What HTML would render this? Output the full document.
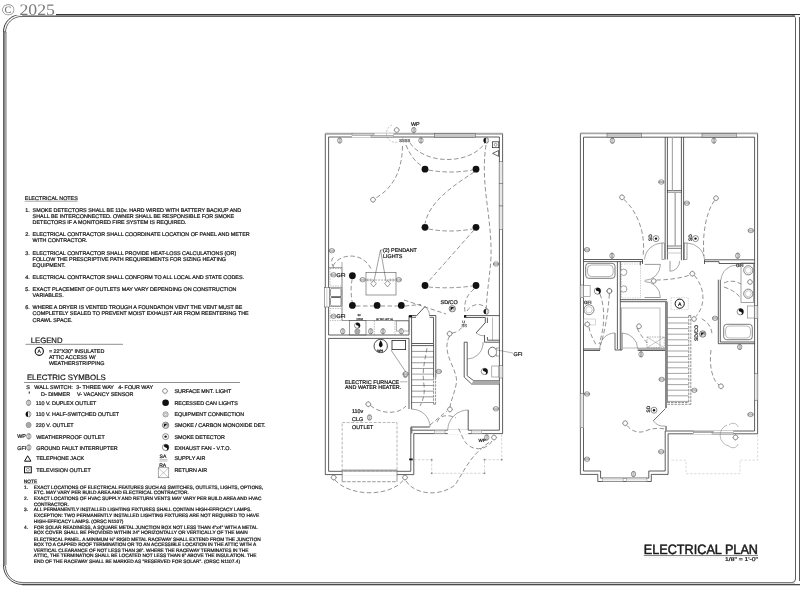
<!DOCTYPE html><html><head><meta charset="utf-8"><style>html,body{margin:0;padding:0;background:#fff;}svg{display:block;will-change:transform;} text{text-rendering:geometricPrecision;font-variant-ligatures:none;font-feature-settings:"liga" 0,"clig" 0;stroke:currentColor;stroke-width:0.24px;}</style></head><body>
<svg width="800" height="600" viewBox="0 0 800 600">
<rect width="800" height="600" fill="#fff"/>
<rect x="21" y="14" width="779" height="1" fill="#333"/>
<rect x="22" y="15" width="773" height="1" fill="#909090"/>
<rect x="22" y="16" width="773" height="1" fill="#666"/>
<rect x="3" y="31" width="1" height="535" fill="#636363"/>
<rect x="4" y="31" width="1" height="535" fill="#888"/>
<rect x="5" y="32" width="1" height="533" fill="#a6a6a6"/>
<rect x="6" y="32" width="1" height="533" fill="#bbb"/>
<rect x="22" y="582" width="770" height="1" fill="#7f7f7f"/>
<rect x="22" y="583" width="773" height="1" fill="#d0d0d0"/>
<rect x="22" y="584" width="778" height="1" fill="#4a4a4a"/>
<rect x="22" y="585" width="778" height="1" fill="#c8c8c8"/>
<rect x="795" y="18" width="1" height="561" fill="#5e5e5e"/>
<rect x="799" y="17" width="1" height="564" fill="#5a5a5a"/>
<path d="M3.5,31.5 A17.5,17.5 0 0 1 21,14.5" stroke="#333" stroke-width="1.0" fill="none" />
<path d="M5.5,32.5 A16,16 0 0 1 22,16.5" stroke="#666" stroke-width="1.0" fill="none" />
<path d="M3.5,565.5 A19,19 0 0 0 22.5,584.5" stroke="#444" stroke-width="1.0" fill="none" />
<path d="M5.5,565.5 A16.5,16.5 0 0 0 22,582.5" stroke="#666" stroke-width="1.0" fill="none" />
<path d="M792,582.5 A3.5,3.5 0 0 0 795.5,579" stroke="#5e5e5e" stroke-width="1.0" fill="none" />
<path d="M795.5,18.5 A3,3 0 0 0 792.5,15.5" stroke="#666" stroke-width="0.8" fill="none" />
<rect x="0" y="0" width="56" height="15.2" fill="#fff"/>
<text x="1.5" y="15.3" font-size="16" fill="#7a7a7a" color="#7a7a7a" font-family="Liberation Serif" font-weight="normal" textLength="53.5" lengthAdjust="spacingAndGlyphs" style="stroke-width:0">© 2025</text>
<text x="24.8" y="200" font-size="5.4" fill="#222" color="#222" font-family="Liberation Sans" font-weight="normal" textLength="53" lengthAdjust="spacingAndGlyphs" >ELECTRICAL NOTES</text>
<line x1="24.8" y1="201.2" x2="77.8" y2="201.2" stroke="#444" stroke-width="0.5" />
<text x="25.2" y="211.8" font-size="5.4" fill="#222" color="#222" font-family="Liberation Sans" font-weight="normal" >1.</text>
<text x="32.6" y="211.8" font-size="5.4" fill="#222" color="#222" font-family="Liberation Sans" font-weight="normal" >SMOKE DETECTORS SHALL BE 110v. HARD WIRED WITH BATTERY BACKUP AND</text>
<text x="32.6" y="217.85" font-size="5.4" fill="#222" color="#222" font-family="Liberation Sans" font-weight="normal" >SHALL BE INTERCONNECTED. OWNER SHALL BE RESPONSIBLE FOR SMOKE</text>
<text x="32.6" y="223.9" font-size="5.4" fill="#222" color="#222" font-family="Liberation Sans" font-weight="normal" >DETECTORS IF A MONITORED FIRE SYSTEM IS REQUIRED.</text>
<text x="25.2" y="236.2" font-size="5.4" fill="#222" color="#222" font-family="Liberation Sans" font-weight="normal" >2.</text>
<text x="32.6" y="236.2" font-size="5.4" fill="#222" color="#222" font-family="Liberation Sans" font-weight="normal" >ELECTRICAL CONTRACTOR SHALL COORDINATE LOCATION OF PANEL AND METER</text>
<text x="32.6" y="242.25" font-size="5.4" fill="#222" color="#222" font-family="Liberation Sans" font-weight="normal" >WITH CONTRACTOR.</text>
<text x="25.2" y="254.9" font-size="5.4" fill="#222" color="#222" font-family="Liberation Sans" font-weight="normal" >3.</text>
<text x="32.6" y="254.9" font-size="5.4" fill="#222" color="#222" font-family="Liberation Sans" font-weight="normal" >ELECTRICAL CONTRACTOR SHALL PROVIDE HEAT-LOSS CALCULATIONS (OR)</text>
<text x="32.6" y="260.95" font-size="5.4" fill="#222" color="#222" font-family="Liberation Sans" font-weight="normal" >FOLLOW THE PRESCRIPTIVE PATH REQUIREMENTS FOR SIZING HEATING</text>
<text x="32.6" y="267.0" font-size="5.4" fill="#222" color="#222" font-family="Liberation Sans" font-weight="normal" >EQUIPMENT.</text>
<text x="25.2" y="279.0" font-size="5.4" fill="#222" color="#222" font-family="Liberation Sans" font-weight="normal" >4.</text>
<text x="32.6" y="279.0" font-size="5.4" fill="#222" color="#222" font-family="Liberation Sans" font-weight="normal" >ELECTRICAL CONTRACTOR SHALL CONFORM TO ALL LOCAL AND STATE CODES.</text>
<text x="25.2" y="291.1" font-size="5.4" fill="#222" color="#222" font-family="Liberation Sans" font-weight="normal" >5.</text>
<text x="32.6" y="291.1" font-size="5.4" fill="#222" color="#222" font-family="Liberation Sans" font-weight="normal" >EXACT PLACEMENT OF OUTLETS MAY VARY DEPENDING ON CONSTRUCTION</text>
<text x="32.6" y="297.15" font-size="5.4" fill="#222" color="#222" font-family="Liberation Sans" font-weight="normal" >VARIABLES.</text>
<text x="25.2" y="309.4" font-size="5.4" fill="#222" color="#222" font-family="Liberation Sans" font-weight="normal" >6.</text>
<text x="32.6" y="309.4" font-size="5.4" fill="#222" color="#222" font-family="Liberation Sans" font-weight="normal" >WHERE A DRYER IS VENTED TROUGH A FOUNDATION VENT THE VENT MUST BE</text>
<text x="32.6" y="315.45" font-size="5.4" fill="#222" color="#222" font-family="Liberation Sans" font-weight="normal" >COMPLETELY SEALED TO PREVENT MOIST EXHAUST AIR FROM REENTERING THE</text>
<text x="32.6" y="321.5" font-size="5.4" fill="#222" color="#222" font-family="Liberation Sans" font-weight="normal" >CRAWL SPACE.</text>
<text x="30.7" y="342.7" font-size="7.75" fill="#111" color="#111" font-family="Liberation Sans" font-weight="normal" style="stroke-width:0.18px">LEGEND</text>
<line x1="25.5" y1="344.3" x2="123" y2="344.3" stroke="#444" stroke-width="0.6" />
<circle cx="39.3" cy="351.3" r="4.1" fill="none" stroke="#111" stroke-width="1.1"/>
<text x="37.5" y="353.3" font-size="5.0" fill="#222" color="#222" font-family="Liberation Sans" font-weight="normal" >A</text>
<text x="48.9" y="352.5" font-size="5.4" fill="#222" color="#222" font-family="Liberation Sans" font-weight="normal" >= 22"X30" INSULATED</text>
<text x="48.9" y="358.8" font-size="5.4" fill="#222" color="#222" font-family="Liberation Sans" font-weight="normal" >ATTIC ACCESS W/</text>
<text x="48.9" y="365.1" font-size="5.4" fill="#222" color="#222" font-family="Liberation Sans" font-weight="normal" >WEATHERSTRIPPING</text>
<text x="26.9" y="379.9" font-size="7.85" fill="#111" color="#111" font-family="Liberation Sans" font-weight="normal" style="stroke-width:0.18px">ELECTRIC SYMBOLS</text>
<line x1="24" y1="382.5" x2="240" y2="382.5" stroke="#444" stroke-width="0.6" />
<text x="26.2" y="389" font-size="5.4" fill="#222" color="#222" font-family="Liberation Sans" font-weight="normal" >S</text>
<text x="28.6" y="392.5" font-size="4" fill="#222" color="#222" font-family="Liberation Sans" font-weight="normal" >₃</text>
<text x="34.3" y="389.3" font-size="5.4" fill="#222" color="#222" font-family="Liberation Sans" font-weight="normal" >WALL SWITCH:</text>
<text x="76.3" y="389.3" font-size="5.4" fill="#222" color="#222" font-family="Liberation Sans" font-weight="normal" >3- THREE WAY</text>
<text x="118.3" y="389.3" font-size="5.4" fill="#222" color="#222" font-family="Liberation Sans" font-weight="normal" >4- FOUR WAY</text>
<text x="41" y="395.8" font-size="5.4" fill="#222" color="#222" font-family="Liberation Sans" font-weight="normal" >D- DIMMER</text>
<text x="77" y="395.8" font-size="5.4" fill="#222" color="#222" font-family="Liberation Sans" font-weight="normal" >V- VACANCY SENSOR</text>
<g transform="translate(28.6,402.8) rotate(0)"><ellipse rx="2.21" ry="2.6" fill="#fff" stroke="#555" stroke-width="0.6"/><line x1="-0.55" y1="-3.0" x2="-0.55" y2="3.0" stroke="#555" stroke-width="0.45"/><line x1="0.55" y1="-3.0" x2="0.55" y2="3.0" stroke="#555" stroke-width="0.45"/></g>
<text x="35.8" y="404.8" font-size="5.4" fill="#222" color="#222" font-family="Liberation Sans" font-weight="normal" >110 V. DUPLEX OUTLET</text>
<g transform="translate(28.6,414.2) rotate(0)"><ellipse rx="2.3400000000000003" ry="2.6" fill="#fff" stroke="#555" stroke-width="0.6"/><path d="M-0.6,-2.6 A2.3400000000000003,2.6 0 0 0 -0.6,2.6 Z" fill="#111"/><line x1="0.7" y1="-3.1" x2="0.7" y2="3.1" stroke="#666" stroke-width="0.5"/></g>
<text x="35.8" y="416.1" font-size="5.4" fill="#222" color="#222" font-family="Liberation Sans" font-weight="normal" >110 V. HALF-SWITCHED OUTLET</text>
<g transform="translate(28.6,425.0)"><ellipse rx="2.565" ry="2.7" fill="#b0b0b0" stroke="#888" stroke-width="0.6"/><line x1="-0.8" y1="-2.7" x2="-0.8" y2="2.7" stroke="#999" stroke-width="0.5"/><line x1="0.8" y1="-2.7" x2="0.8" y2="2.7" stroke="#999" stroke-width="0.5"/></g>
<text x="35.8" y="426.9" font-size="5.4" fill="#222" color="#222" font-family="Liberation Sans" font-weight="normal" >220 V. OUTLET</text>
<text x="17.2" y="438.4" font-size="5.4" fill="#222" color="#222" font-family="Liberation Sans" font-weight="normal" >WP</text>
<g transform="translate(28.8,436.3) rotate(0)"><ellipse rx="2.21" ry="2.6" fill="#fff" stroke="#555" stroke-width="0.6"/><line x1="-0.55" y1="-3.0" x2="-0.55" y2="3.0" stroke="#555" stroke-width="0.45"/><line x1="0.55" y1="-3.0" x2="0.55" y2="3.0" stroke="#555" stroke-width="0.45"/></g>
<text x="36.2" y="438.5" font-size="5.4" fill="#222" color="#222" font-family="Liberation Sans" font-weight="normal" >WEATHERPROOF OUTLET</text>
<text x="17.2" y="449.6" font-size="5.4" fill="#222" color="#222" font-family="Liberation Sans" font-weight="normal" >GFI</text>
<g transform="translate(28.8,447.5) rotate(0)"><ellipse rx="2.21" ry="2.6" fill="#fff" stroke="#555" stroke-width="0.6"/><line x1="-0.55" y1="-3.0" x2="-0.55" y2="3.0" stroke="#555" stroke-width="0.45"/><line x1="0.55" y1="-3.0" x2="0.55" y2="3.0" stroke="#555" stroke-width="0.45"/></g>
<text x="36.2" y="449.6" font-size="5.4" fill="#222" color="#222" font-family="Liberation Sans" font-weight="normal" >GROUND FAULT INTERRUPTER</text>
<polygon points="24.5,461.2 27.7,455.8 30.9,461.2" stroke="#111" stroke-width="1.0" fill="none" />
<text x="36.2" y="459.8" font-size="5.4" fill="#222" color="#222" font-family="Liberation Sans" font-weight="normal" >TELEPHONE JACK</text>
<rect x="24.5" y="466.8" width="6.8" height="6" stroke="#111" stroke-width="1.0" fill="none" />
<circle cx="27.9" cy="469.8" r="1.5" fill="none" stroke="#333" stroke-width="0.5"/>
<text x="36.2" y="471.8" font-size="5.4" fill="#222" color="#222" font-family="Liberation Sans" font-weight="normal" >TELEVISION OUTLET</text>
<g transform="translate(165,391)"><circle r="2.3" fill="#fff" stroke="#555" stroke-width="0.6"/><path d="M0,-3.0999999999999996V-2.3 M0,2.3V3.0999999999999996 M-3.0999999999999996,0H-2.3 M2.3,0H3.0999999999999996" stroke="#555" stroke-width="0.5"/></g>
<text x="174.4" y="393.4" font-size="5.4" fill="#222" color="#222" font-family="Liberation Sans" font-weight="normal" >SURFACE MNT. LIGHT</text>
<circle cx="165.6" cy="402.8" r="3.3" fill="#111"/>
<text x="174.4" y="404.9" font-size="5.4" fill="#222" color="#222" font-family="Liberation Sans" font-weight="normal" >RECESSED CAN LIGHTS</text>
<g transform="translate(165.6,414.4)"><circle r="2.6" fill="#e8e8e8" stroke="#666" stroke-width="0.6"/><circle r="1.2" fill="none" stroke="#888" stroke-width="0.4"/></g>
<text x="174.4" y="416.2" font-size="5.4" fill="#222" color="#222" font-family="Liberation Sans" font-weight="normal" >EQUIPMENT CONNECTION</text>
<g transform="translate(165.6,425.3)"><circle r="3.2" fill="#ddd" stroke="#444" stroke-width="0.6"/><path d="M-1.8,1.8 L1.6,-1.6 L-1.6,-1.6 Z" fill="#111"/><path d="M-1.8,1.8 L1.6,-1.6 L1.6,1.2" fill="none" stroke="#333" stroke-width="0.5"/></g>
<text x="174.4" y="427.3" font-size="5.4" fill="#222" color="#222" font-family="Liberation Sans" font-weight="normal" >SMOKE / CARBON MONOXIDE DET.</text>
<g transform="translate(165.6,436.6)"><circle r="3.0" fill="#fff" stroke="#444" stroke-width="0.6"/><circle r="1.2" fill="#111"/></g>
<text x="174.4" y="438.6" font-size="5.4" fill="#222" color="#222" font-family="Liberation Sans" font-weight="normal" >SMOKE DETECTOR</text>
<g transform="translate(165.6,447.4)"><circle r="3.2" fill="#fff" stroke="#444" stroke-width="0.6"/><path d="M0,-3.2 A3.2,3.2 0 0 1 0,3.2 A1.6,1.6 0 0 0 0,0 A1.6,1.6 0 0 1 0,-3.2 Z" fill="#111"/></g>
<text x="174.4" y="449.7" font-size="5.4" fill="#222" color="#222" font-family="Liberation Sans" font-weight="normal" >EXHAUST FAN - V.T.O.</text>
<text x="159.6" y="458.0" font-size="5.0" fill="#222" color="#222" font-family="Liberation Sans" font-weight="normal" >SA</text>
<path d="M159.5,459.6 h8 M159.5,461 h8" stroke="#666" stroke-width="0.4" fill="none" />
<text x="174.4" y="459.5" font-size="5.4" fill="#222" color="#222" font-family="Liberation Sans" font-weight="normal" >SUPPLY AIR</text>
<text x="159.2" y="467.0" font-size="5.0" fill="#222" color="#222" font-family="Liberation Sans" font-weight="normal" >RA</text>
<rect x="158.2" y="467.8" width="10.6" height="10" stroke="#555" stroke-width="0.5" fill="none" />
<path d="M158.2,467.8 L168.8,477.8 M168.8,467.8 L158.2,477.8" stroke="#777" stroke-width="0.4" fill="none" />
<text x="174.4" y="471.7" font-size="5.4" fill="#222" color="#222" font-family="Liberation Sans" font-weight="normal" >RETURN AIR</text>
<text x="23.8" y="482.8" font-size="4.8" fill="#222" color="#222" font-family="Liberation Sans" font-weight="normal" >NOTE</text>
<line x1="23.8" y1="483.7" x2="37.2" y2="483.7" stroke="#555" stroke-width="0.4" />
<text x="24.0" y="488.6" font-size="4.8" fill="#222" color="#222" font-family="Liberation Sans" font-weight="normal" >1.</text>
<text x="33.8" y="488.6" font-size="4.8" fill="#222" color="#222" font-family="Liberation Sans" font-weight="normal" >EXACT LOCATIONS OF ELECTRICAL FEATURES SUCH AS SWITCHES, OUTLETS, LIGHTS, OPTIONS,</text>
<text x="33.8" y="494.3" font-size="4.8" fill="#222" color="#222" font-family="Liberation Sans" font-weight="normal" >ETC. MAY VARY PER  BUILD AREA AND ELECTRICAL CONTRACTOR.</text>
<text x="24.0" y="500.0" font-size="4.8" fill="#222" color="#222" font-family="Liberation Sans" font-weight="normal" >2.</text>
<text x="33.8" y="500.0" font-size="4.8" fill="#222" color="#222" font-family="Liberation Sans" font-weight="normal" >EXACT LOCATIONS OF HVAC SUPPLY AND RETURN VENTS MAY VARY PER BUILD AREA AND HVAC</text>
<text x="33.8" y="505.7" font-size="4.8" fill="#222" color="#222" font-family="Liberation Sans" font-weight="normal" >CONTRACTOR.</text>
<text x="24.0" y="511.4" font-size="4.8" fill="#222" color="#222" font-family="Liberation Sans" font-weight="normal" >3.</text>
<text x="33.8" y="511.4" font-size="4.8" fill="#222" color="#222" font-family="Liberation Sans" font-weight="normal" >ALL PERMANENTLY INSTALLED LIGHTING FIXTURES SHALL CONTAIN HIGH-EFFICACY LAMPS.</text>
<text x="33.8" y="517.1" font-size="4.8" fill="#222" color="#222" font-family="Liberation Sans" font-weight="normal" >EXCEPTION: TWO PERMANENTLY INSTALLED LIGHTING FIXTURES ARE NOT REQUIRED TO HAVE</text>
<text x="33.8" y="522.8" font-size="4.8" fill="#222" color="#222" font-family="Liberation Sans" font-weight="normal" >HIGH-EFFICACY LAMPS. (ORSC N1107)</text>
<text x="24.0" y="528.7" font-size="4.8" fill="#222" color="#222" font-family="Liberation Sans" font-weight="normal" >4.</text>
<text x="33.8" y="528.7" font-size="4.8" fill="#222" color="#222" font-family="Liberation Sans" font-weight="normal" >FOR SOLAR READINESS, A SQUARE METAL JUNCTION BOX NOT LESS THAN 4"x4" WITH A METAL</text>
<text x="33.8" y="534.4" font-size="4.8" fill="#222" color="#222" font-family="Liberation Sans" font-weight="normal" >BOX COVER SHALL BE PROVIDED WITHIN 24" HORIZONTALLY OR VERTICALLY OF THE MAIN</text>
<text x="33.8" y="540.6" font-size="4.8" fill="#222" color="#222" font-family="Liberation Sans" font-weight="normal" >ELECTRICAL PANEL. A MINIMUM ½" RIGID METAL RACEWAY SHALL EXTEND FROM THE JUNCTION</text>
<text x="33.8" y="546.2" font-size="4.8" fill="#222" color="#222" font-family="Liberation Sans" font-weight="normal" >BOX TO A CAPPED ROOF TERMINATION OR TO AN ACCESSIBLE LOCATION IN THE ATTIC WITH A</text>
<text x="33.8" y="551.8" font-size="4.8" fill="#222" color="#222" font-family="Liberation Sans" font-weight="normal" >VERTICAL CLEARANCE OF NOT LESS THAN 36". WHERE THE RACEWAY TERMINATES IN THE</text>
<text x="33.8" y="557.4" font-size="4.8" fill="#222" color="#222" font-family="Liberation Sans" font-weight="normal" >ATTIC, THE TERMINATION SHALL BE LOCATED NOT LESS THAN 6" ABOVE THE INSULATION. THE</text>
<text x="33.8" y="563.0" font-size="4.8" fill="#222" color="#222" font-family="Liberation Sans" font-weight="normal" >END OF THE RACEWAY SHALL BE MARKED AS "RESERVED FOR SOLAR". (ORSC N1107.4)</text>
<text x="643.8" y="553.9" font-size="13.6" fill="#1a1a1a" color="#1a1a1a" font-family="Liberation Sans" font-weight="normal" textLength="114.2" lengthAdjust="spacingAndGlyphs" style="stroke-width:0.5px">ELECTRICAL PLAN</text>
<line x1="643.8" y1="555.5" x2="758" y2="555.5" stroke="#333" stroke-width="0.6" />
<line x1="643.8" y1="557" x2="758" y2="557" stroke="#ddd" stroke-width="0.5" />
<text x="725" y="560.8" font-size="5.4" fill="#222" color="#222" font-family="Liberation Sans" font-weight="normal" textLength="33" lengthAdjust="spacingAndGlyphs" >1/8" = 1'-0"</text>
<polygon points="325.3,133.8 502.6,133.8 502.6,433.6 413.8,433.6 413.8,474.6 325.3,474.6" stroke="#2a2a2a" stroke-width="0.75" fill="none" />
<line x1="325.3" y1="133.6" x2="502.6" y2="133.6" stroke="#a8a8a8" stroke-width="1.6" />
<polyline points="328.6,335 328.6,137 499.4,137 499.4,430.2 411.8,430.2" stroke="#2a2a2a" stroke-width="0.75" fill="none" />
<polyline points="409,409 409,338.4 328.6,338.4 328.6,471.3 410.8,471.3 410.8,427" stroke="#2a2a2a" stroke-width="0.75" fill="none" />
<line x1="328.6" y1="335" x2="409" y2="335" stroke="#2a2a2a" stroke-width="0.75" />
<line x1="411.8" y1="427" x2="411.8" y2="433.6" stroke="#2a2a2a" stroke-width="0.75" />
<line x1="409" y1="315.5" x2="409" y2="335" stroke="#2a2a2a" stroke-width="0.75" />
<polyline points="409,315.5 416,315.5" stroke="#2a2a2a" stroke-width="0.75" fill="none" />
<rect x="409" y="315.3" width="3" height="2.2" stroke="none" stroke-width="0" fill="#111" />
<polyline points="411.6,343.5 411.6,317.3 416,317.3" stroke="#2a2a2a" stroke-width="0.75" fill="none" />
<polyline points="429.5,315.5 435.8,315.5" stroke="#2a2a2a" stroke-width="0.75" fill="none" />
<polyline points="429.5,317.3 433.5,317.3 433.5,343.5 411.6,343.5" stroke="#2a2a2a" stroke-width="0.75" fill="none" />
<line x1="416" y1="316.3" x2="425" y2="306.5" stroke="#444" stroke-width="0.9" />
<path d="M425,306.5 A12,12 0 0 1 429.5,316" stroke="#555" stroke-width="0.5" fill="none" />
<line x1="411.6" y1="343.5" x2="411.6" y2="409.2" stroke="#2a2a2a" stroke-width="0.75" />
<line x1="411.6" y1="345.6" x2="433.6" y2="345.6" stroke="#2a2a2a" stroke-width="0.75" />
<line x1="411.8" y1="351.4" x2="433.6" y2="351.4" stroke="#555" stroke-width="0.6" />
<line x1="411.8" y1="357.08" x2="433.6" y2="357.08" stroke="#999" stroke-width="0.9" />
<line x1="411.8" y1="362.76" x2="433.6" y2="362.76" stroke="#555" stroke-width="0.6" />
<line x1="411.8" y1="368.44" x2="433.6" y2="368.44" stroke="#555" stroke-width="0.6" />
<line x1="411.8" y1="374.12" x2="433.6" y2="374.12" stroke="#999" stroke-width="0.9" />
<line x1="411.8" y1="379.8" x2="433.6" y2="379.8" stroke="#555" stroke-width="0.6" />
<line x1="411.8" y1="385.48" x2="433.6" y2="385.48" stroke="#555" stroke-width="0.6" />
<line x1="411.8" y1="391.16" x2="433.6" y2="391.16" stroke="#555" stroke-width="0.6" />
<line x1="411.8" y1="396.84" x2="433.6" y2="396.84" stroke="#555" stroke-width="0.6" />
<line x1="411.8" y1="402.52" x2="433.6" y2="402.52" stroke="#555" stroke-width="0.6" />
<line x1="433.6" y1="343.5" x2="433.6" y2="377.3" stroke="#2a2a2a" stroke-width="0.75" />
<line x1="435.8" y1="315.5" x2="435.8" y2="377.3" stroke="#2a2a2a" stroke-width="0.75" />
<line x1="433.6" y1="377.3" x2="433.6" y2="404.2" stroke="#444" stroke-width="0.6" stroke-dasharray="2.5,1"/>
<line x1="435.6" y1="377.3" x2="435.6" y2="404.2" stroke="#444" stroke-width="0.6" stroke-dasharray="2.5,1"/>
<line x1="433.6" y1="404.2" x2="435.6" y2="404.2" stroke="#444" stroke-width="0.6" />
<path d="M427,348 C424,365 422,372 424,385 C425,395 423,400 420,406" stroke="#4a4a4a" stroke-width="0.6" fill="none" stroke-dasharray="4.5,2.5"/>
<path d="M411.8,409.2 A18,18 0 0 1 430,427" stroke="#555" stroke-width="0.5" fill="none" />
<rect x="411.8" y="426.3" width="18" height="1.4" stroke="#666" stroke-width="0.4" fill="#bbb" />
<polyline points="328.6,267.7 342,267.7 342,320.5 409,320.5" stroke="#555" stroke-width="0.6" fill="none" />
<rect x="330.5" y="288.3" width="10.5" height="8.6" rx="1.5" fill="none" stroke="#555" stroke-width="0.6"/>
<rect x="330.5" y="297.4" width="10.5" height="8.6" rx="1.5" fill="none" stroke="#555" stroke-width="0.6"/>
<rect x="329.2" y="287.6" width="12.8" height="19" stroke="#666" stroke-width="0.5" fill="none" />
<path d="M331.5,297 L341,297" stroke="#333" stroke-width="0.9" fill="none" />
<rect x="330" y="268.5" width="12" height="17.5" stroke="#888" stroke-width="0.5" fill="none" stroke-dasharray="1.5,1"/>
<rect x="330" y="308.5" width="12" height="12" stroke="#888" stroke-width="0.5" fill="none" stroke-dasharray="1.5,1"/>
<line x1="374.3" y1="321" x2="374.3" y2="335" stroke="#777" stroke-width="0.5" stroke-dasharray="1.5,1"/>
<line x1="395" y1="321" x2="395" y2="335" stroke="#777" stroke-width="0.5" stroke-dasharray="1.5,1"/>
<rect x="396.3" y="321" width="12.7" height="10" stroke="#666" stroke-width="0.5" fill="none" />
<text x="357.5" y="316.3" font-size="2.8" fill="#444" color="#444" font-family="Liberation Sans" font-weight="normal" >30</text>
<text x="356.5" y="319.5" font-size="2.8" fill="#444" color="#444" font-family="Liberation Sans" font-weight="normal" >CEM</text>
<text x="376" y="319.5" font-size="2.4" fill="#444" color="#444" font-family="Liberation Sans" font-weight="normal" >(2) TAP UCT (4)</text>
<line x1="366" y1="280" x2="396" y2="280" stroke="#555" stroke-width="0.5" stroke-dasharray="2,1"/>
<line x1="368" y1="278.5" x2="368" y2="281.5" stroke="#444" stroke-width="0.5" />
<line x1="371" y1="278.5" x2="371" y2="281.5" stroke="#444" stroke-width="0.5" />
<line x1="390" y1="278.5" x2="390" y2="281.5" stroke="#444" stroke-width="0.5" />
<line x1="393" y1="278.5" x2="393" y2="281.5" stroke="#444" stroke-width="0.5" />
<rect x="349.6" y="320.5" width="16.4" height="14.5" stroke="#555" stroke-width="0.6" fill="none" />
<path d="M342,268 L342,262" stroke="#555" stroke-width="0.5" fill="none" />
<rect x="366" y="272.3" width="30" height="22.7" stroke="#555" stroke-width="0.6" fill="none" />
<path d="M383,250 L380.5,250 L374,281 M380.5,250 L386,281" stroke="#444" stroke-width="0.5" fill="none" />
<rect x="352" y="133.4" width="41.3" height="4" fill="#fff"/>
<rect x="352" y="133.6" width="22" height="1.8" stroke="#666" stroke-width="0.4" fill="#d0d0d0" />
<rect x="371" y="135.4" width="22.3" height="1.8" stroke="#666" stroke-width="0.4" fill="#d0d0d0" />
<rect x="434.4" y="133.6" width="41.0" height="3.5999999999999943" stroke="#555" stroke-width="0.5" fill="#c8c8c8" />
<rect x="499.2" y="161.5" width="3.6000000000000227" height="21.80000000000001" stroke="#555" stroke-width="0.5" fill="#fff" />
<line x1="501.0" y1="161.5" x2="501.0" y2="183.3" stroke="#888" stroke-width="0.4" />
<rect x="499.2" y="183.3" width="3.6000000000000227" height="22.69999999999999" stroke="#555" stroke-width="0.5" fill="#fff" />
<line x1="501.0" y1="183.3" x2="501.0" y2="206" stroke="#888" stroke-width="0.4" />
<rect x="499.2" y="206" width="3.6000000000000227" height="23.30000000000001" stroke="#555" stroke-width="0.5" fill="#fff" />
<line x1="501.0" y1="206" x2="501.0" y2="229.3" stroke="#888" stroke-width="0.4" />
<rect x="324.3" y="287.7" width="5.099999999999966" height="19.30000000000001" stroke="#555" stroke-width="0.5" fill="#fff" />
<line x1="326.85" y1="287.7" x2="326.85" y2="307" stroke="#888" stroke-width="0.4" />
<rect x="499.2" y="365.7" width="3.6000000000000227" height="12.300000000000011" stroke="#555" stroke-width="0.5" fill="#fff" />
<line x1="501.0" y1="365.7" x2="501.0" y2="378" stroke="#888" stroke-width="0.4" />
<rect x="447.7" y="429.6" width="20.5" height="4.6" fill="#fff"/>
<rect x="434.2" y="430.2" width="10.8" height="3.4" stroke="#666" stroke-width="0.4" fill="#fff" />
<line x1="434.2" y1="431.9" x2="445" y2="431.9" stroke="#999" stroke-width="0.4" />
<rect x="471.7" y="430.2" width="10" height="3.4" stroke="#666" stroke-width="0.4" fill="#fff" />
<line x1="471.7" y1="431.9" x2="481.7" y2="431.9" stroke="#999" stroke-width="0.4" />
<line x1="468.2" y1="410" x2="468.2" y2="430.2" stroke="#444" stroke-width="0.9" />
<path d="M447.7,430.2 A20.5,20.5 0 0 1 468.2,410" stroke="#555" stroke-width="0.5" fill="none" />
<rect x="342.2" y="470.7" width="54.8" height="4.5" fill="#fff"/>
<line x1="342.2" y1="470" x2="397" y2="470" stroke="#666" stroke-width="0.6" />
<line x1="342.2" y1="470" x2="342.2" y2="481.7" stroke="#555" stroke-width="0.6" />
<line x1="397" y1="470" x2="397" y2="481.7" stroke="#555" stroke-width="0.6" />
<line x1="342.2" y1="481.7" x2="397" y2="481.7" stroke="#555" stroke-width="0.6" stroke-dasharray="3.5,1.5"/>
<line x1="342.2" y1="471" x2="397" y2="471" stroke="#888" stroke-width="1.0" />
<rect x="342.2" y="422.5" width="54.8" height="48.5" stroke="#888" stroke-width="0.6" fill="none" stroke-dasharray="3,1.5"/>
<line x1="464" y1="315.6" x2="499.4" y2="315.6" stroke="#2a2a2a" stroke-width="0.75" />
<line x1="466" y1="317.5" x2="485.3" y2="317.5" stroke="#2a2a2a" stroke-width="0.75" />
<rect x="464" y="315.3" width="2.2" height="2.4" stroke="none" stroke-width="0" fill="#111" />
<polyline points="485.3,317.5 485.3,323" stroke="#2a2a2a" stroke-width="0.75" fill="none" />
<polyline points="487.4,317.5 487.4,323" stroke="#2a2a2a" stroke-width="0.75" fill="none" />
<line x1="492.5" y1="317.5" x2="492.5" y2="340" stroke="#777" stroke-width="0.5" />
<polyline points="484.5,335 484.5,342.2 499.4,342.2" stroke="#2a2a2a" stroke-width="0.75" fill="none" />
<polyline points="487.4,337 487.4,340.2 499.4,340.2" stroke="#2a2a2a" stroke-width="0.75" fill="none" />
<line x1="485" y1="323" x2="476" y2="333" stroke="#444" stroke-width="0.9" />
<path d="M476,333 A14,14 0 0 0 485,336" stroke="#555" stroke-width="0.5" fill="none" />
<polyline points="464.2,342.2 464.2,377 471.5,384 499.4,384" stroke="#2a2a2a" stroke-width="0.75" fill="none" />
<polyline points="467.2,342.2 467.2,375.8 473.5,380.6 499.4,380.6" stroke="#2a2a2a" stroke-width="0.75" fill="none" />
<line x1="464.2" y1="342.2" x2="467.2" y2="342.2" stroke="#2a2a2a" stroke-width="0.75" />
<polygon points="473.5,380.6 499.4,380.6 499.4,384 471.5,384" fill="#aaa"/>
<path d="M467.2,359 A16,16 0 0 0 483,345" stroke="#555" stroke-width="0.5" fill="none" />
<line x1="483" y1="345" x2="483" y2="342.2" stroke="#555" stroke-width="0.6" />
<ellipse cx="492.5" cy="352" rx="4.2" ry="4.8" fill="#fff" stroke="#444" stroke-width="0.8"/>
<rect x="496.2" y="348" width="3" height="8" stroke="#555" stroke-width="0.5" fill="#fff" />
<line x1="497" y1="350" x2="513" y2="353" stroke="#444" stroke-width="0.4" />
<text x="513.5" y="356" font-size="5.4" fill="#222" color="#222" font-family="Liberation Sans" font-weight="normal" >GFI</text>
<g transform="translate(484.5,371.4)"><circle r="3.2" fill="#fff" stroke="#444" stroke-width="0.6"/><path d="M0,-3.2 A3.2,3.2 0 0 1 0,3.2 A1.6,1.6 0 0 0 0,0 A1.6,1.6 0 0 1 0,-3.2 Z" fill="#111"/></g>
<rect x="491.8" y="366" width="7" height="11" stroke="#666" stroke-width="0.5" fill="#fff" />
<circle cx="380.7" cy="346" r="6.7" fill="#fff" stroke="#222" stroke-width="0.8"/>
<path d="M380.7,340.3 C383,344 383.5,346 380.7,347.5 C378,346 378.5,344 380.7,340.3 Z" stroke="none" stroke-width="0" fill="#111" />
<text x="377.3" y="351.5" font-size="3.5" fill="#222" color="#222" font-family="Liberation Sans" font-weight="normal" >WH</text>
<rect x="392" y="340.4" width="13.6" height="9.2" stroke="#222" stroke-width="0.8" fill="none" />
<line x1="391" y1="350" x2="406.5" y2="373" stroke="#444" stroke-width="0.5" />
<line x1="400" y1="381.8" x2="407.5" y2="381.8" stroke="#444" stroke-width="0.4" />
<text x="345" y="383.6" font-size="5.4" fill="#222" color="#222" font-family="Liberation Sans" font-weight="normal" >ELECTRIC FURNACE</text>
<text x="345" y="389.4" font-size="5.4" fill="#222" color="#222" font-family="Liberation Sans" font-weight="normal" >AND WATER HEATER.</text>
<text x="383" y="252" font-size="5.4" fill="#222" color="#222" font-family="Liberation Sans" font-weight="normal" >(2) PENDANT</text>
<text x="383" y="258.1" font-size="5.4" fill="#222" color="#222" font-family="Liberation Sans" font-weight="normal" >LIGHTS</text>
<text x="440.6" y="303.6" font-size="5.4" fill="#222" color="#222" font-family="Liberation Sans" font-weight="normal" >SD/CO</text>
<text x="352" y="413.3" font-size="5.4" fill="#222" color="#222" font-family="Liberation Sans" font-weight="normal" >110v</text>
<text x="352" y="421.2" font-size="5.4" fill="#222" color="#222" font-family="Liberation Sans" font-weight="normal" >CLG</text>
<text x="352" y="428.7" font-size="5.4" fill="#222" color="#222" font-family="Liberation Sans" font-weight="normal" >OUTLET</text>
<text x="411" y="126" font-size="5.4" fill="#222" color="#222" font-family="Liberation Sans" font-weight="normal" >WP</text>
<text x="336.5" y="277.3" font-size="5.4" fill="#222" color="#222" font-family="Liberation Sans" font-weight="normal" >GFI</text>
<text x="336.5" y="318.3" font-size="5.4" fill="#222" color="#222" font-family="Liberation Sans" font-weight="normal" >GFI</text>
<circle cx="425" cy="169.2" r="3.4" fill="#111"/>
<circle cx="476" cy="169.2" r="3.4" fill="#111"/>
<circle cx="425" cy="227.3" r="3.4" fill="#111"/>
<circle cx="476" cy="227.3" r="3.4" fill="#111"/>
<circle cx="425" cy="285.5" r="3.4" fill="#111"/>
<circle cx="476" cy="285.5" r="3.4" fill="#111"/>
<circle cx="352.4" cy="275.7" r="3.4" fill="#111"/>
<circle cx="352.4" cy="305.4" r="3.4" fill="#111"/>
<circle cx="377.1" cy="305.4" r="3.4" fill="#111"/>
<circle cx="401.3" cy="305.4" r="3.4" fill="#111"/>
<g transform="translate(373,199.7)"><circle r="2.3" fill="#fff" stroke="#555" stroke-width="0.6"/><path d="M0,-3.0999999999999996V-2.3 M0,2.3V3.0999999999999996 M-3.0999999999999996,0H-2.3 M2.3,0H3.0999999999999996" stroke="#555" stroke-width="0.5"/></g>
<g transform="translate(449.6,333.7)"><circle r="2.3" fill="#fff" stroke="#555" stroke-width="0.6"/><path d="M0,-3.0999999999999996V-2.3 M0,2.3V3.0999999999999996 M-3.0999999999999996,0H-2.3 M2.3,0H3.0999999999999996" stroke="#555" stroke-width="0.5"/></g>
<g transform="translate(449.9,409.4)"><circle r="2.3" fill="#fff" stroke="#555" stroke-width="0.6"/><path d="M0,-3.0999999999999996V-2.3 M0,2.3V3.0999999999999996 M-3.0999999999999996,0H-2.3 M2.3,0H3.0999999999999996" stroke="#555" stroke-width="0.5"/></g>
<g transform="translate(368.3,404.2)"><circle r="2.3" fill="#fff" stroke="#555" stroke-width="0.6"/><path d="M0,-3.0999999999999996V-2.3 M0,2.3V3.0999999999999996 M-3.0999999999999996,0H-2.3 M2.3,0H3.0999999999999996" stroke="#555" stroke-width="0.5"/></g>
<g transform="translate(333.7,477.5)"><circle r="2.3" fill="#fff" stroke="#555" stroke-width="0.6"/><path d="M0,-3.0999999999999996V-2.3 M0,2.3V3.0999999999999996 M-3.0999999999999996,0H-2.3 M2.3,0H3.0999999999999996" stroke="#555" stroke-width="0.5"/></g>
<g transform="translate(405,477.5)"><circle r="2.3" fill="#fff" stroke="#555" stroke-width="0.6"/><path d="M0,-3.0999999999999996V-2.3 M0,2.3V3.0999999999999996 M-3.0999999999999996,0H-2.3 M2.3,0H3.0999999999999996" stroke="#555" stroke-width="0.5"/></g>
<g transform="translate(494,437.5)"><circle r="2.3" fill="#fff" stroke="#555" stroke-width="0.6"/><path d="M0,-3.0999999999999996V-2.3 M0,2.3V3.0999999999999996 M-3.0999999999999996,0H-2.3 M2.3,0H3.0999999999999996" stroke="#555" stroke-width="0.5"/></g>
<g transform="translate(396.7,130)"><circle r="2.3" fill="#fff" stroke="#555" stroke-width="0.6"/><path d="M0,-3.0999999999999996V-2.3 M0,2.3V3.0999999999999996 M-3.0999999999999996,0H-2.3 M2.3,0H3.0999999999999996" stroke="#555" stroke-width="0.5"/></g>
<g transform="translate(339.7,140.5) rotate(0)"><ellipse rx="2.21" ry="2.6" fill="#fff" stroke="#555" stroke-width="0.6"/><line x1="-0.55" y1="-3.0" x2="-0.55" y2="3.0" stroke="#555" stroke-width="0.45"/><line x1="0.55" y1="-3.0" x2="0.55" y2="3.0" stroke="#555" stroke-width="0.45"/></g>
<g transform="translate(420.9,140.4) rotate(0)"><ellipse rx="2.21" ry="2.6" fill="#fff" stroke="#555" stroke-width="0.6"/><line x1="-0.55" y1="-3.0" x2="-0.55" y2="3.0" stroke="#555" stroke-width="0.45"/><line x1="0.55" y1="-3.0" x2="0.55" y2="3.0" stroke="#555" stroke-width="0.45"/></g>
<g transform="translate(413.8,130.1) rotate(0)"><ellipse rx="2.21" ry="2.6" fill="#fff" stroke="#555" stroke-width="0.6"/><line x1="-0.55" y1="-3.0" x2="-0.55" y2="3.0" stroke="#555" stroke-width="0.45"/><line x1="0.55" y1="-3.0" x2="0.55" y2="3.0" stroke="#555" stroke-width="0.45"/></g>
<g transform="translate(331.8,250.7) rotate(90)"><ellipse rx="2.21" ry="2.6" fill="#fff" stroke="#555" stroke-width="0.6"/><line x1="-0.55" y1="-3.0" x2="-0.55" y2="3.0" stroke="#555" stroke-width="0.45"/><line x1="0.55" y1="-3.0" x2="0.55" y2="3.0" stroke="#555" stroke-width="0.45"/></g>
<g transform="translate(496,264) rotate(90)"><ellipse rx="2.21" ry="2.6" fill="#fff" stroke="#555" stroke-width="0.6"/><line x1="-0.55" y1="-3.0" x2="-0.55" y2="3.0" stroke="#555" stroke-width="0.45"/><line x1="0.55" y1="-3.0" x2="0.55" y2="3.0" stroke="#555" stroke-width="0.45"/></g>
<g transform="translate(405.3,374.7) rotate(0)"><ellipse rx="2.21" ry="2.6" fill="#fff" stroke="#555" stroke-width="0.6"/><line x1="-0.55" y1="-3.0" x2="-0.55" y2="3.0" stroke="#555" stroke-width="0.45"/><line x1="0.55" y1="-3.0" x2="0.55" y2="3.0" stroke="#555" stroke-width="0.45"/></g>
<g transform="translate(438.8,371.5) rotate(90)"><ellipse rx="2.21" ry="2.6" fill="#fff" stroke="#555" stroke-width="0.6"/><line x1="-0.55" y1="-3.0" x2="-0.55" y2="3.0" stroke="#555" stroke-width="0.45"/><line x1="0.55" y1="-3.0" x2="0.55" y2="3.0" stroke="#555" stroke-width="0.45"/></g>
<g transform="translate(405.7,373.9) rotate(90)"><ellipse rx="2.21" ry="2.6" fill="#fff" stroke="#555" stroke-width="0.6"/><line x1="-0.55" y1="-3.0" x2="-0.55" y2="3.0" stroke="#555" stroke-width="0.45"/><line x1="0.55" y1="-3.0" x2="0.55" y2="3.0" stroke="#555" stroke-width="0.45"/></g>
<g transform="translate(495.9,408.8) rotate(90)"><ellipse rx="2.21" ry="2.6" fill="#fff" stroke="#555" stroke-width="0.6"/><line x1="-0.55" y1="-3.0" x2="-0.55" y2="3.0" stroke="#555" stroke-width="0.45"/><line x1="0.55" y1="-3.0" x2="0.55" y2="3.0" stroke="#555" stroke-width="0.45"/></g>
<g transform="translate(369.5,417.5) rotate(0)"><ellipse rx="2.21" ry="2.6" fill="#fff" stroke="#555" stroke-width="0.6"/><line x1="-0.55" y1="-3.0" x2="-0.55" y2="3.0" stroke="#555" stroke-width="0.45"/><line x1="0.55" y1="-3.0" x2="0.55" y2="3.0" stroke="#555" stroke-width="0.45"/></g>
<g transform="translate(486.7,437.5) rotate(0)"><ellipse rx="2.21" ry="2.6" fill="#fff" stroke="#555" stroke-width="0.6"/><line x1="-0.55" y1="-3.0" x2="-0.55" y2="3.0" stroke="#555" stroke-width="0.45"/><line x1="0.55" y1="-3.0" x2="0.55" y2="3.0" stroke="#555" stroke-width="0.45"/></g>
<g transform="translate(333.5,274.8) rotate(90)"><ellipse rx="2.21" ry="2.6" fill="#fff" stroke="#555" stroke-width="0.6"/><line x1="-0.55" y1="-3.0" x2="-0.55" y2="3.0" stroke="#555" stroke-width="0.45"/><line x1="0.55" y1="-3.0" x2="0.55" y2="3.0" stroke="#555" stroke-width="0.45"/></g>
<g transform="translate(333.5,316.3) rotate(90)"><ellipse rx="2.21" ry="2.6" fill="#fff" stroke="#555" stroke-width="0.6"/><line x1="-0.55" y1="-3.0" x2="-0.55" y2="3.0" stroke="#555" stroke-width="0.45"/><line x1="0.55" y1="-3.0" x2="0.55" y2="3.0" stroke="#555" stroke-width="0.45"/></g>
<g transform="translate(342.7,331.3) rotate(0)"><ellipse rx="2.21" ry="2.6" fill="#fff" stroke="#555" stroke-width="0.6"/><line x1="-0.55" y1="-3.0" x2="-0.55" y2="3.0" stroke="#555" stroke-width="0.45"/><line x1="0.55" y1="-3.0" x2="0.55" y2="3.0" stroke="#555" stroke-width="0.45"/></g>
<g transform="translate(370.7,331.3) rotate(0)"><ellipse rx="2.21" ry="2.6" fill="#fff" stroke="#555" stroke-width="0.6"/><line x1="-0.55" y1="-3.0" x2="-0.55" y2="3.0" stroke="#555" stroke-width="0.45"/><line x1="0.55" y1="-3.0" x2="0.55" y2="3.0" stroke="#555" stroke-width="0.45"/></g>
<g transform="translate(383,331.3) rotate(0)"><ellipse rx="2.21" ry="2.6" fill="#fff" stroke="#555" stroke-width="0.6"/><line x1="-0.55" y1="-3.0" x2="-0.55" y2="3.0" stroke="#555" stroke-width="0.45"/><line x1="0.55" y1="-3.0" x2="0.55" y2="3.0" stroke="#555" stroke-width="0.45"/></g>
<g transform="translate(401.3,331.3) rotate(0)"><ellipse rx="2.21" ry="2.6" fill="#fff" stroke="#555" stroke-width="0.6"/><line x1="-0.55" y1="-3.0" x2="-0.55" y2="3.0" stroke="#555" stroke-width="0.45"/><line x1="0.55" y1="-3.0" x2="0.55" y2="3.0" stroke="#555" stroke-width="0.45"/></g>
<g transform="translate(362.7,279.7) rotate(90)"><ellipse rx="2.21" ry="2.6" fill="#fff" stroke="#555" stroke-width="0.6"/><line x1="-0.55" y1="-3.0" x2="-0.55" y2="3.0" stroke="#555" stroke-width="0.45"/><line x1="0.55" y1="-3.0" x2="0.55" y2="3.0" stroke="#555" stroke-width="0.45"/></g>
<g transform="translate(398.7,279.7) rotate(90)"><ellipse rx="2.21" ry="2.6" fill="#fff" stroke="#555" stroke-width="0.6"/><line x1="-0.55" y1="-3.0" x2="-0.55" y2="3.0" stroke="#555" stroke-width="0.45"/><line x1="0.55" y1="-3.0" x2="0.55" y2="3.0" stroke="#555" stroke-width="0.45"/></g>
<g transform="translate(357.3,331.5)"><ellipse rx="2.565" ry="2.7" fill="#b0b0b0" stroke="#888" stroke-width="0.6"/><line x1="-0.8" y1="-2.7" x2="-0.8" y2="2.7" stroke="#999" stroke-width="0.5"/><line x1="0.8" y1="-2.7" x2="0.8" y2="2.7" stroke="#999" stroke-width="0.5"/></g>
<g transform="translate(357.3,325.5)"><circle r="2.8" fill="#fff" stroke="#444" stroke-width="0.6"/><path d="M0,-2.8 A2.8,2.8 0 0 1 0,2.8 A1.4,1.4 0 0 0 0,0 A1.4,1.4 0 0 1 0,-2.8 Z" fill="#111"/></g>
<g transform="translate(486.4,140.4) rotate(0)"><ellipse rx="2.3400000000000003" ry="2.6" fill="#fff" stroke="#555" stroke-width="0.6"/><path d="M-0.6,-2.6 A2.3400000000000003,2.6 0 0 0 -0.6,2.6 Z" fill="#111"/><line x1="0.7" y1="-3.1" x2="0.7" y2="3.1" stroke="#666" stroke-width="0.5"/></g>
<g transform="translate(486.5,311.5) rotate(0)"><ellipse rx="2.3400000000000003" ry="2.6" fill="#fff" stroke="#555" stroke-width="0.6"/><path d="M-0.6,-2.6 A2.3400000000000003,2.6 0 0 0 -0.6,2.6 Z" fill="#111"/><line x1="0.7" y1="-3.1" x2="0.7" y2="3.1" stroke="#666" stroke-width="0.5"/></g>
<text x="461.5" y="327" font-size="4" fill="#555" color="#555" font-family="Liberation Sans" font-weight="normal" >SS</text>
<text x="462" y="323" font-size="4" fill="#555" color="#555" font-family="Liberation Sans" font-weight="normal" >≀≀</text>
<g transform="translate(452.3,308.7)"><circle r="3.2" fill="#ddd" stroke="#444" stroke-width="0.6"/><path d="M-1.8,1.8 L1.6,-1.6 L-1.6,-1.6 Z" fill="#111"/><path d="M-1.8,1.8 L1.6,-1.6 L1.6,1.2" fill="none" stroke="#333" stroke-width="0.5"/></g>
<path d="M373.5,280.5 L376.3,283.7 L373.5,286.9 L370.7,283.7 Z" fill="#fff" stroke="#555" stroke-width="0.6"/>
<path d="M387.5,280.5 L390.3,283.7 L387.5,286.9 L384.7,283.7 Z" fill="#fff" stroke="#555" stroke-width="0.6"/>
<rect x="492.4" y="141.8" width="6.4" height="5.9" stroke="#222" stroke-width="0.7" fill="none" />
<circle cx="495.6" cy="144.75" r="1.4" fill="none" stroke="#333" stroke-width="0.5"/>
<polygon points="492.6,153.4 498.6,150.5 498.6,156.3" stroke="#222" stroke-width="0.7" fill="none" />
<text x="399.2" y="142.3" font-size="4.3" fill="#555" color="#555" font-family="Liberation Sans" font-weight="normal" textLength="11" lengthAdjust="spacingAndGlyphs" >SSSS</text>
<path d="M392,125 A9,9 0 1 0 404,136" stroke="#888" stroke-width="0.5" fill="none" stroke-dasharray="2,1.5"/>
<path d="M410,143 C425,165 470,165 485,143" stroke="#4a4a4a" stroke-width="0.6" fill="none" stroke-dasharray="4.5,2.5"/>
<path d="M406,145 Q412,160 422,166" stroke="#4a4a4a" stroke-width="0.6" fill="none" stroke-dasharray="4.5,2.5"/>
<path d="M428.5,170 Q450,174 472.5,170" stroke="#4a4a4a" stroke-width="0.6" fill="none" stroke-dasharray="4.5,2.5"/>
<path d="M474,172 C455,185 430,200 425,223.5" stroke="#4a4a4a" stroke-width="0.6" fill="none" stroke-dasharray="4.5,2.5"/>
<path d="M428.5,229 Q450,233 472.5,229" stroke="#4a4a4a" stroke-width="0.6" fill="none" stroke-dasharray="4.5,2.5"/>
<path d="M474,230 L428,282" stroke="#4a4a4a" stroke-width="0.6" fill="none" stroke-dasharray="4.5,2.5"/>
<path d="M428.5,287 Q450,289 472.5,286" stroke="#4a4a4a" stroke-width="0.6" fill="none" stroke-dasharray="4.5,2.5"/>
<path d="M474,289 Q463,298 465,312" stroke="#4a4a4a" stroke-width="0.6" fill="none" stroke-dasharray="4.5,2.5"/>
<path d="M486,145 C480,185 492,215 491,257 C490,275 487,290 486,312" stroke="#4a4a4a" stroke-width="0.6" fill="none" stroke-dasharray="4.5,2.5"/>
<path d="M402.5,146 C402,175 390,190 375.2,198.3" stroke="#4a4a4a" stroke-width="0.6" fill="none" stroke-dasharray="4.5,2.5"/>
<path d="M333,266 C340,252 365,252 372,271" stroke="#4a4a4a" stroke-width="0.6" fill="none" stroke-dasharray="4.5,2.5"/>
<path d="M352.2,279 Q350,290 352.2,302" stroke="#4a4a4a" stroke-width="0.6" fill="none" stroke-dasharray="4.5,2.5"/>
<path d="M356,306 L373.5,306 M380.5,306 L397.8,306 M404.8,306 L421,304.5" stroke="#4a4a4a" stroke-width="0.6" fill="none" stroke-dasharray="4.5,2.5"/>
<path d="M404,300 L446,314" stroke="#4a4a4a" stroke-width="0.6" fill="none" stroke-dasharray="4.5,2.5"/>
<path d="M452,333 Q462,332 465,320" stroke="#4a4a4a" stroke-width="0.6" fill="none" stroke-dasharray="4.5,2.5"/>
<path d="M467,311 C472,303 482,303 486,308" stroke="#4a4a4a" stroke-width="0.6" fill="none" stroke-dasharray="4.5,2.5"/>
<path d="M449.5,336 C440,355 460,370 456,385 C454,395 451,400 450,407" stroke="#4a4a4a" stroke-width="0.6" fill="none" stroke-dasharray="4.5,2.5"/>
<path d="M370.5,405.5 C380,414 398,415 406,406" stroke="#4a4a4a" stroke-width="0.6" fill="none" stroke-dasharray="4.5,2.5"/>
<path d="M335,480 C350,497 390,497 403.5,480" stroke="#4a4a4a" stroke-width="0.6" fill="none" stroke-dasharray="4.5,2.5"/>
<path d="M406,481 C415,495 440,497 455,485 C465,470 470,455 491,441" stroke="#4a4a4a" stroke-width="0.6" fill="none" stroke-dasharray="4.5,2.5"/>
<path d="M492,441 C485,452 468,452 462,436 L458,427" stroke="#4a4a4a" stroke-width="0.6" fill="none" stroke-dasharray="4.5,2.5"/>
<path d="M430,425 L447,411" stroke="#4a4a4a" stroke-width="0.6" fill="none" stroke-dasharray="4.5,2.5"/>
<path d="M437,422 C440,415 448,414 456,418" stroke="#4a4a4a" stroke-width="0.6" fill="none" stroke-dasharray="4.5,2.5"/>
<path d="M334,268 C330,262 332,258 334,257" stroke="#4a4a4a" stroke-width="0.6" fill="none" stroke-dasharray="4.5,2.5"/>
<path d="M414,459.7 H431.7" stroke="#aaa" stroke-width="0.5" fill="none" stroke-dasharray="2.5,1.5"/>
<path d="M431.7,459.7 V473.3 H484.5 V459.7 H501.7 V433.6" stroke="#aaa" stroke-width="0.5" fill="none" stroke-dasharray="2.5,1.5"/>
<rect x="430.9" y="458.9" width="1.6" height="1.6" stroke="none" stroke-width="0" fill="#888" />
<rect x="430.9" y="472.5" width="1.6" height="1.6" stroke="none" stroke-width="0" fill="#888" />
<rect x="483.7" y="458.9" width="1.6" height="1.6" stroke="none" stroke-width="0" fill="#888" />
<rect x="483.7" y="472.5" width="1.6" height="1.6" stroke="none" stroke-width="0" fill="#888" />
<rect x="500.9" y="458.9" width="1.6" height="1.6" stroke="none" stroke-width="0" fill="#888" />
<text x="478.5" y="442" font-size="4.5" fill="#222" color="#222" font-family="Liberation Sans" font-weight="normal" >WP</text>
<rect x="409.2" y="458.5" width="3.5" height="1.8" stroke="none" stroke-width="0" fill="#111" />
<polygon points="580.4,133.5 757.6,133.5 757.6,433.8 668.1,433.8 668.1,474.4 651.3,474.4 651.3,481.5 597.8,481.5 597.8,474.4 580.4,474.4" stroke="#2a2a2a" stroke-width="0.75" fill="none" />
<polygon points="583.5,137.2 754.6,137.2 754.6,431 665.2,431 665.2,471 648.8,471 648.8,478.1 600.6,478.1 600.6,471 583.5,471" stroke="#2a2a2a" stroke-width="0.75" fill="none" />
<line x1="580.4" y1="133.4" x2="757.6" y2="133.4" stroke="#a8a8a8" stroke-width="1.6" />
<rect x="607" y="133.6" width="34.299999999999955" height="3.5999999999999943" stroke="#555" stroke-width="0.5" fill="#c8c8c8" />
<rect x="702" y="133.6" width="34.299999999999955" height="3.5999999999999943" stroke="#555" stroke-width="0.5" fill="#c8c8c8" />
<rect x="580.2" y="285" width="3.5" height="12.699999999999989" stroke="#555" stroke-width="0.5" fill="#fff" />
<line x1="581.95" y1="285" x2="581.95" y2="297.7" stroke="#888" stroke-width="0.4" />
<rect x="580.2" y="393.7" width="3.5" height="34.0" stroke="#555" stroke-width="0.5" fill="#fff" />
<line x1="581.95" y1="393.7" x2="581.95" y2="427.7" stroke="#888" stroke-width="0.4" />
<rect x="754.4" y="305.7" width="3.3999999999999773" height="12.600000000000023" stroke="#555" stroke-width="0.5" fill="#fff" />
<line x1="756.0999999999999" y1="305.7" x2="756.0999999999999" y2="318.3" stroke="#888" stroke-width="0.4" />
<rect x="754.4" y="373.7" width="3.3999999999999773" height="26.5" stroke="#555" stroke-width="0.5" fill="#fff" />
<line x1="756.0999999999999" y1="373.7" x2="756.0999999999999" y2="400.2" stroke="#888" stroke-width="0.4" />
<rect x="602.5" y="478.1" width="20.6" height="3.4" stroke="#666" stroke-width="0.4" fill="#fff" />
<line x1="602.5" y1="479.8" x2="623.1" y2="479.8" stroke="#999" stroke-width="0.4" />
<rect x="626.2" y="478.1" width="20.7" height="3.4" stroke="#666" stroke-width="0.4" fill="#fff" />
<line x1="626.2" y1="479.8" x2="646.9" y2="479.8" stroke="#999" stroke-width="0.4" />
<rect x="693.5" y="430.6" width="39.7" height="3.6" fill="#fff"/>
<rect x="693.5" y="431.2" width="20" height="1.6" stroke="#777" stroke-width="0.4" fill="#c8c8c8" />
<rect x="712" y="432.5" width="21.2" height="1.6" stroke="#777" stroke-width="0.4" fill="#d8d8d8" />
<line x1="665.2" y1="137.2" x2="665.2" y2="259.5" stroke="#2a2a2a" stroke-width="0.75" />
<line x1="667.4" y1="137.2" x2="667.4" y2="259.5" stroke="#2a2a2a" stroke-width="0.75" />
<line x1="681.4" y1="137.2" x2="681.4" y2="260.2" stroke="#2a2a2a" stroke-width="0.75" />
<line x1="683.6" y1="137.2" x2="683.6" y2="260.2" stroke="#2a2a2a" stroke-width="0.75" />
<rect x="667.4" y="190.5" width="14" height="1.6" stroke="#2a2a2a" stroke-width="0.6" fill="#fff" />
<rect x="667.4" y="246" width="14" height="2.2" stroke="#2a2a2a" stroke-width="0.6" fill="#fff" />
<line x1="672.4" y1="137.2" x2="672.4" y2="190.5" stroke="#aaa" stroke-width="1.2" />
<line x1="675.2" y1="192" x2="675.2" y2="246" stroke="#aaa" stroke-width="1.4" />
<line x1="667.4" y1="253" x2="681.4" y2="253" stroke="#bbb" stroke-width="0.8" />
<polyline points="583.5,259.5 642.5,259.5" stroke="#2a2a2a" stroke-width="0.75" fill="none" />
<polyline points="583.5,261.6 642.5,261.6" stroke="#2a2a2a" stroke-width="0.75" fill="none" />
<line x1="642.5" y1="259.5" x2="642.5" y2="264" stroke="#2a2a2a" stroke-width="0.75" />
<polyline points="704.5,259.8 754.6,259.8" stroke="#2a2a2a" stroke-width="0.75" fill="none" />
<polyline points="704.5,261.6 719,261.6 719,263.5 754.6,263.5" stroke="#2a2a2a" stroke-width="0.75" fill="none" />
<line x1="704.5" y1="259.8" x2="704.5" y2="264" stroke="#2a2a2a" stroke-width="0.75" />
<path d="M662,243 A18,18 0 0 0 644.5,259.5" stroke="#555" stroke-width="0.5" fill="none" />
<rect x="662" y="243" width="2.6" height="16.5" stroke="#444" stroke-width="0.5" fill="#fff" />
<path d="M687,243 A18,18 0 0 1 704.5,259.5" stroke="#555" stroke-width="0.5" fill="none" />
<rect x="684.4" y="243" width="2.6" height="16.5" stroke="#444" stroke-width="0.5" fill="#fff" />
<line x1="617.4" y1="261.6" x2="617.4" y2="349" stroke="#2a2a2a" stroke-width="0.75" />
<line x1="620.3" y1="261.6" x2="620.3" y2="332" stroke="#2a2a2a" stroke-width="0.75" />
<rect x="585.7" y="263.3" width="29.3" height="15" rx="3" fill="#fff" stroke="#444" stroke-width="0.7"/>
<rect x="587.5" y="265" width="25.7" height="11.6" rx="4" fill="#fff" stroke="#666" stroke-width="0.5"/>
<rect x="583.6" y="285.5" width="6.5" height="11" stroke="#666" stroke-width="0.5" fill="#fff" />
<g transform="translate(597.5,291)"><circle r="3.2" fill="#fff" stroke="#444" stroke-width="0.6"/><path d="M0,-3.2 A3.2,3.2 0 0 1 0,3.2 A1.6,1.6 0 0 0 0,0 A1.6,1.6 0 0 1 0,-3.2 Z" fill="#111"/></g>
<circle cx="589" cy="309.7" r="5" fill="#fff" stroke="#666" stroke-width="0.8"/>
<circle cx="589" cy="309.7" r="3.2" fill="none" stroke="#999" stroke-width="0.5"/>
<text x="584" y="304" font-size="4.5" fill="#222" color="#222" font-family="Liberation Sans" font-weight="normal" >GFI</text>
<rect x="583.6" y="319" width="12" height="6" stroke="#999" stroke-width="0.4" fill="none" />
<g transform="translate(609.4,291)"><circle r="2.3" fill="#fff" stroke="#555" stroke-width="0.6"/><path d="M0,-3.0999999999999996V-2.3 M0,2.3V3.0999999999999996 M-3.0999999999999996,0H-2.3 M2.3,0H3.0999999999999996" stroke="#555" stroke-width="0.5"/></g>
<g transform="translate(587.3,324.3)"><circle r="2.3" fill="#fff" stroke="#555" stroke-width="0.6"/><path d="M0,-3.0999999999999996V-2.3 M0,2.3V3.0999999999999996 M-3.0999999999999996,0H-2.3 M2.3,0H3.0999999999999996" stroke="#555" stroke-width="0.5"/></g>
<line x1="583.5" y1="349" x2="600" y2="349" stroke="#2a2a2a" stroke-width="0.75" />
<line x1="583.5" y1="350.5" x2="600" y2="350.5" stroke="#2a2a2a" stroke-width="0.75" />
<path d="M600,350 A15,15 0 0 1 615,333" stroke="#555" stroke-width="0.5" fill="none" />
<line x1="615" y1="333" x2="615" y2="350" stroke="#444" stroke-width="0.8" />
<line x1="620.3" y1="332" x2="620.3" y2="350" stroke="#2a2a2a" stroke-width="0.75" />
<line x1="615" y1="350" x2="622" y2="350" stroke="#2a2a2a" stroke-width="0.75" />
<path d="M622,333 A16,16 0 0 1 637.7,349" stroke="#555" stroke-width="0.5" fill="none" />
<line x1="622" y1="333" x2="622" y2="350" stroke="#444" stroke-width="0.8" />
<line x1="637.7" y1="349" x2="665.7" y2="349" stroke="#2a2a2a" stroke-width="0.75" />
<line x1="637.7" y1="350.5" x2="665.7" y2="350.5" stroke="#2a2a2a" stroke-width="0.75" />
<rect x="621.5" y="264" width="19" height="34" stroke="#888" stroke-width="0.4" fill="none" stroke-dasharray="1.5,1"/>
<circle cx="623.7" cy="272.3" r="3.2" fill="#fff" stroke="#666" stroke-width="0.6"/>
<circle cx="623.7" cy="289" r="3.2" fill="#fff" stroke="#666" stroke-width="0.6"/>
<line x1="620.3" y1="299.7" x2="667" y2="299.7" stroke="#2a2a2a" stroke-width="0.75" />
<line x1="620.3" y1="301.7" x2="667" y2="301.7" stroke="#2a2a2a" stroke-width="0.75" />
<line x1="640.3" y1="261.6" x2="640.3" y2="265" stroke="#2a2a2a" stroke-width="0.75" />
<line x1="644.6" y1="264.4" x2="660.4" y2="264.4" stroke="#555" stroke-width="0.6" />
<path d="M660.4,264.4 A16,16 0 0 1 644.6,280.4" stroke="#555" stroke-width="0.5" fill="none" />
<line x1="644.6" y1="297.5" x2="660.4" y2="297.5" stroke="#555" stroke-width="0.6" />
<path d="M660.4,297.5 A16,16 0 0 0 644.6,281.5" stroke="#555" stroke-width="0.5" fill="none" />
<path d="M670,271.3 A10,10 0 0 0 679.6,261" stroke="#555" stroke-width="0.5" fill="none" />
<line x1="670" y1="261" x2="670" y2="271.3" stroke="#555" stroke-width="0.6" />
<rect x="621.5" y="308" width="38.5" height="40" stroke="#aaa" stroke-width="0.8" fill="none" />
<rect x="647" y="337" width="17.3" height="10.7" stroke="#666" stroke-width="0.5" fill="none" stroke-dasharray="1.5,1"/>
<path d="M647,337 L664.3,347.7 M664.3,337 L647,347.7" stroke="#777" stroke-width="0.4" fill="none" />
<line x1="666" y1="301.7" x2="666" y2="408" stroke="#888" stroke-width="2.0" />
<line x1="667.5" y1="301.7" x2="667.5" y2="402.5" stroke="#2a2a2a" stroke-width="0.5" />
<line x1="688.75" y1="315.5" x2="688.75" y2="402.5" stroke="#444" stroke-width="0.6" stroke-dasharray="2.5,1"/>
<line x1="690.8" y1="315.5" x2="690.8" y2="404.3" stroke="#444" stroke-width="0.6" stroke-dasharray="2.5,1"/>
<line x1="667.5" y1="402.5" x2="688.75" y2="402.5" stroke="#444" stroke-width="0.6" stroke-dasharray="2.5,1"/>
<line x1="667.5" y1="404.3" x2="690.8" y2="404.3" stroke="#444" stroke-width="0.6" stroke-dasharray="2.5,1"/>
<line x1="688.75" y1="315.5" x2="690.8" y2="315.5" stroke="#444" stroke-width="0.6" />
<line x1="667.5" y1="317.4" x2="688.5" y2="317.4" stroke="#666" stroke-width="0.6" />
<line x1="667.5" y1="323.0" x2="688.5" y2="323.0" stroke="#666" stroke-width="0.6" />
<line x1="667.5" y1="328.6" x2="688.5" y2="328.6" stroke="#666" stroke-width="0.6" />
<line x1="667.5" y1="334.2" x2="688.5" y2="334.2" stroke="#666" stroke-width="0.6" />
<line x1="667.5" y1="339.8" x2="688.5" y2="339.8" stroke="#666" stroke-width="0.6" />
<line x1="667.5" y1="345.4" x2="688.5" y2="345.4" stroke="#666" stroke-width="0.6" />
<line x1="667.5" y1="351.0" x2="688.5" y2="351.0" stroke="#666" stroke-width="0.6" />
<line x1="667.5" y1="356.6" x2="688.5" y2="356.6" stroke="#666" stroke-width="0.6" />
<line x1="667.5" y1="362.2" x2="688.5" y2="362.2" stroke="#666" stroke-width="0.6" />
<line x1="667.5" y1="367.8" x2="688.5" y2="367.8" stroke="#666" stroke-width="0.6" />
<line x1="667.5" y1="373.4" x2="688.5" y2="373.4" stroke="#666" stroke-width="0.6" />
<line x1="667.5" y1="379.0" x2="688.5" y2="379.0" stroke="#666" stroke-width="0.6" />
<line x1="667.5" y1="384.6" x2="688.5" y2="384.6" stroke="#666" stroke-width="0.6" />
<line x1="667.5" y1="390.2" x2="688.5" y2="390.2" stroke="#666" stroke-width="0.6" />
<line x1="667.5" y1="395.8" x2="688.5" y2="395.8" stroke="#666" stroke-width="0.6" />
<line x1="667.5" y1="401.4" x2="688.5" y2="401.4" stroke="#666" stroke-width="0.6" />
<line x1="718.3" y1="279.7" x2="718.3" y2="343.7" stroke="#2a2a2a" stroke-width="0.75" />
<line x1="720.3" y1="279.7" x2="720.3" y2="342" stroke="#2a2a2a" stroke-width="0.75" />
<line x1="718.3" y1="343.7" x2="754.6" y2="343.7" stroke="#2a2a2a" stroke-width="0.75" />
<line x1="720.3" y1="342" x2="754.6" y2="342" stroke="#2a2a2a" stroke-width="0.75" />
<path d="M721,279.7 A16,16 0 0 1 737,265" stroke="#555" stroke-width="0.5" fill="none" />
<rect x="741" y="263" width="12.7" height="39.3" stroke="#666" stroke-width="0.6" fill="none" />
<circle cx="748.3" cy="270.3" r="4.6" fill="#fff" stroke="#666" stroke-width="0.8"/>
<circle cx="748.3" cy="270.3" r="3" fill="none" stroke="#999" stroke-width="0.5"/>
<circle cx="748.3" cy="293.7" r="4.6" fill="#fff" stroke="#666" stroke-width="0.8"/>
<circle cx="748.3" cy="293.7" r="3" fill="none" stroke="#999" stroke-width="0.5"/>
<g transform="translate(750,282)"><circle r="2.3" fill="#fff" stroke="#555" stroke-width="0.6"/><path d="M0,-3.0999999999999996V-2.3 M0,2.3V3.0999999999999996 M-3.0999999999999996,0H-2.3 M2.3,0H3.0999999999999996" stroke="#555" stroke-width="0.5"/></g>
<g transform="translate(740.3,311.7)"><circle r="3.2" fill="#fff" stroke="#444" stroke-width="0.6"/><path d="M0,-3.2 A3.2,3.2 0 0 1 0,3.2 A1.6,1.6 0 0 0 0,0 A1.6,1.6 0 0 1 0,-3.2 Z" fill="#111"/></g>
<rect x="747.7" y="306" width="6.5" height="12" stroke="#666" stroke-width="0.5" fill="#fff" />
<rect x="723.7" y="324.3" width="28.6" height="15.4" rx="3" fill="#fff" stroke="#444" stroke-width="0.7"/>
<rect x="725.5" y="326" width="25" height="12" rx="4" fill="#fff" stroke="#777" stroke-width="0.5"/>
<text x="736" y="267" font-size="4.5" fill="#222" color="#222" font-family="Liberation Sans" font-weight="normal" >GFI</text>
<line x1="665.5" y1="408.5" x2="653.3" y2="420.8" stroke="#444" stroke-width="0.8" />
<path d="M653.3,420.8 A13,13 0 0 0 665.5,426" stroke="#555" stroke-width="0.5" fill="none" />
<rect x="665" y="426" width="2" height="5" stroke="none" stroke-width="0" fill="#999" />
<rect x="671" y="297.7" width="17.3" height="12" stroke="#aaa" stroke-width="0.5" fill="none" stroke-dasharray="1.5,1"/>
<circle cx="679.7" cy="303.7" r="4.6" fill="#fff" stroke="#111" stroke-width="1.0"/>
<text x="677.9" y="305.8" font-size="5.2" fill="#222" color="#222" font-family="Liberation Sans" font-weight="normal" >A</text>
<g transform="translate(622,197.3)"><circle r="2.3" fill="#fff" stroke="#555" stroke-width="0.6"/><path d="M0,-3.0999999999999996V-2.3 M0,2.3V3.0999999999999996 M-3.0999999999999996,0H-2.3 M2.3,0H3.0999999999999996" stroke="#555" stroke-width="0.5"/></g>
<g transform="translate(716,198.2)"><circle r="2.3" fill="#fff" stroke="#555" stroke-width="0.6"/><path d="M0,-3.0999999999999996V-2.3 M0,2.3V3.0999999999999996 M-3.0999999999999996,0H-2.3 M2.3,0H3.0999999999999996" stroke="#555" stroke-width="0.5"/></g>
<g transform="translate(692.3,273.7)"><circle r="2.3" fill="#fff" stroke="#555" stroke-width="0.6"/><path d="M0,-3.0999999999999996V-2.3 M0,2.3V3.0999999999999996 M-3.0999999999999996,0H-2.3 M2.3,0H3.0999999999999996" stroke="#555" stroke-width="0.5"/></g>
<g transform="translate(653.7,281)"><circle r="2.3" fill="#fff" stroke="#555" stroke-width="0.6"/><path d="M0,-3.0999999999999996V-2.3 M0,2.3V3.0999999999999996 M-3.0999999999999996,0H-2.3 M2.3,0H3.0999999999999996" stroke="#555" stroke-width="0.5"/></g>
<g transform="translate(639,326.3)"><circle r="2.3" fill="#fff" stroke="#555" stroke-width="0.6"/><path d="M0,-3.0999999999999996V-2.3 M0,2.3V3.0999999999999996 M-3.0999999999999996,0H-2.3 M2.3,0H3.0999999999999996" stroke="#555" stroke-width="0.5"/></g>
<g transform="translate(694,319)"><circle r="2.3" fill="#fff" stroke="#555" stroke-width="0.6"/><path d="M0,-3.0999999999999996V-2.3 M0,2.3V3.0999999999999996 M-3.0999999999999996,0H-2.3 M2.3,0H3.0999999999999996" stroke="#555" stroke-width="0.5"/></g>
<g transform="translate(721,386.3)"><circle r="2.3" fill="#fff" stroke="#555" stroke-width="0.6"/><path d="M0,-3.0999999999999996V-2.3 M0,2.3V3.0999999999999996 M-3.0999999999999996,0H-2.3 M2.3,0H3.0999999999999996" stroke="#555" stroke-width="0.5"/></g>
<g transform="translate(625.2,423.2)"><circle r="2.3" fill="#fff" stroke="#555" stroke-width="0.6"/><path d="M0,-3.0999999999999996V-2.3 M0,2.3V3.0999999999999996 M-3.0999999999999996,0H-2.3 M2.3,0H3.0999999999999996" stroke="#555" stroke-width="0.5"/></g>
<g transform="translate(735.5,437.4)"><circle r="2.3" fill="#fff" stroke="#555" stroke-width="0.6"/><path d="M0,-3.0999999999999996V-2.3 M0,2.3V3.0999999999999996 M-3.0999999999999996,0H-2.3 M2.3,0H3.0999999999999996" stroke="#555" stroke-width="0.5"/></g>
<g transform="translate(609.4,291)"><circle r="2.3" fill="#fff" stroke="#555" stroke-width="0.6"/><path d="M0,-3.0999999999999996V-2.3 M0,2.3V3.0999999999999996 M-3.0999999999999996,0H-2.3 M2.3,0H3.0999999999999996" stroke="#555" stroke-width="0.5"/></g>
<g transform="translate(612.4,140.7) rotate(0)"><ellipse rx="2.21" ry="2.6" fill="#fff" stroke="#555" stroke-width="0.6"/><line x1="-0.55" y1="-3.0" x2="-0.55" y2="3.0" stroke="#555" stroke-width="0.45"/><line x1="0.55" y1="-3.0" x2="0.55" y2="3.0" stroke="#555" stroke-width="0.45"/></g>
<g transform="translate(713.9,140.6) rotate(0)"><ellipse rx="2.21" ry="2.6" fill="#fff" stroke="#555" stroke-width="0.6"/><line x1="-0.55" y1="-3.0" x2="-0.55" y2="3.0" stroke="#555" stroke-width="0.45"/><line x1="0.55" y1="-3.0" x2="0.55" y2="3.0" stroke="#555" stroke-width="0.45"/></g>
<g transform="translate(661.3,182) rotate(90)"><ellipse rx="2.21" ry="2.6" fill="#fff" stroke="#555" stroke-width="0.6"/><line x1="-0.55" y1="-3.0" x2="-0.55" y2="3.0" stroke="#555" stroke-width="0.45"/><line x1="0.55" y1="-3.0" x2="0.55" y2="3.0" stroke="#555" stroke-width="0.45"/></g>
<g transform="translate(686.8,203.2) rotate(90)"><ellipse rx="2.21" ry="2.6" fill="#fff" stroke="#555" stroke-width="0.6"/><line x1="-0.55" y1="-3.0" x2="-0.55" y2="3.0" stroke="#555" stroke-width="0.45"/><line x1="0.55" y1="-3.0" x2="0.55" y2="3.0" stroke="#555" stroke-width="0.45"/></g>
<g transform="translate(587,249.7) rotate(90)"><ellipse rx="2.21" ry="2.6" fill="#fff" stroke="#555" stroke-width="0.6"/><line x1="-0.55" y1="-3.0" x2="-0.55" y2="3.0" stroke="#555" stroke-width="0.45"/><line x1="0.55" y1="-3.0" x2="0.55" y2="3.0" stroke="#555" stroke-width="0.45"/></g>
<g transform="translate(612,255.7) rotate(0)"><ellipse rx="2.21" ry="2.6" fill="#fff" stroke="#555" stroke-width="0.6"/><line x1="-0.55" y1="-3.0" x2="-0.55" y2="3.0" stroke="#555" stroke-width="0.45"/><line x1="0.55" y1="-3.0" x2="0.55" y2="3.0" stroke="#555" stroke-width="0.45"/></g>
<g transform="translate(750.8,230.6) rotate(90)"><ellipse rx="2.21" ry="2.6" fill="#fff" stroke="#555" stroke-width="0.6"/><line x1="-0.55" y1="-3.0" x2="-0.55" y2="3.0" stroke="#555" stroke-width="0.45"/><line x1="0.55" y1="-3.0" x2="0.55" y2="3.0" stroke="#555" stroke-width="0.45"/></g>
<g transform="translate(737.7,255.7) rotate(0)"><ellipse rx="2.21" ry="2.6" fill="#fff" stroke="#555" stroke-width="0.6"/><line x1="-0.55" y1="-3.0" x2="-0.55" y2="3.0" stroke="#555" stroke-width="0.45"/><line x1="0.55" y1="-3.0" x2="0.55" y2="3.0" stroke="#555" stroke-width="0.45"/></g>
<g transform="translate(641,354.3) rotate(0)"><ellipse rx="2.21" ry="2.6" fill="#fff" stroke="#555" stroke-width="0.6"/><line x1="-0.55" y1="-3.0" x2="-0.55" y2="3.0" stroke="#555" stroke-width="0.45"/><line x1="0.55" y1="-3.0" x2="0.55" y2="3.0" stroke="#555" stroke-width="0.45"/></g>
<g transform="translate(661.7,379.4) rotate(90)"><ellipse rx="2.21" ry="2.6" fill="#fff" stroke="#555" stroke-width="0.6"/><line x1="-0.55" y1="-3.0" x2="-0.55" y2="3.0" stroke="#555" stroke-width="0.45"/><line x1="0.55" y1="-3.0" x2="0.55" y2="3.0" stroke="#555" stroke-width="0.45"/></g>
<g transform="translate(587,394) rotate(90)"><ellipse rx="2.21" ry="2.6" fill="#fff" stroke="#555" stroke-width="0.6"/><line x1="-0.55" y1="-3.0" x2="-0.55" y2="3.0" stroke="#555" stroke-width="0.45"/><line x1="0.55" y1="-3.0" x2="0.55" y2="3.0" stroke="#555" stroke-width="0.45"/></g>
<g transform="translate(715,318.3) rotate(90)"><ellipse rx="2.21" ry="2.6" fill="#fff" stroke="#555" stroke-width="0.6"/><line x1="-0.55" y1="-3.0" x2="-0.55" y2="3.0" stroke="#555" stroke-width="0.45"/><line x1="0.55" y1="-3.0" x2="0.55" y2="3.0" stroke="#555" stroke-width="0.45"/></g>
<g transform="translate(739.7,347) rotate(0)"><ellipse rx="2.21" ry="2.6" fill="#fff" stroke="#555" stroke-width="0.6"/><line x1="-0.55" y1="-3.0" x2="-0.55" y2="3.0" stroke="#555" stroke-width="0.45"/><line x1="0.55" y1="-3.0" x2="0.55" y2="3.0" stroke="#555" stroke-width="0.45"/></g>
<g transform="translate(694.3,390.3) rotate(90)"><ellipse rx="2.21" ry="2.6" fill="#fff" stroke="#555" stroke-width="0.6"/><line x1="-0.55" y1="-3.0" x2="-0.55" y2="3.0" stroke="#555" stroke-width="0.45"/><line x1="0.55" y1="-3.0" x2="0.55" y2="3.0" stroke="#555" stroke-width="0.45"/></g>
<g transform="translate(587,459.2) rotate(90)"><ellipse rx="2.21" ry="2.6" fill="#fff" stroke="#555" stroke-width="0.6"/><line x1="-0.55" y1="-3.0" x2="-0.55" y2="3.0" stroke="#555" stroke-width="0.45"/><line x1="0.55" y1="-3.0" x2="0.55" y2="3.0" stroke="#555" stroke-width="0.45"/></g>
<g transform="translate(661.2,451.7) rotate(90)"><ellipse rx="2.21" ry="2.6" fill="#fff" stroke="#555" stroke-width="0.6"/><line x1="-0.55" y1="-3.0" x2="-0.55" y2="3.0" stroke="#555" stroke-width="0.45"/><line x1="0.55" y1="-3.0" x2="0.55" y2="3.0" stroke="#555" stroke-width="0.45"/></g>
<g transform="translate(633.5,474) rotate(0)"><ellipse rx="2.21" ry="2.6" fill="#fff" stroke="#555" stroke-width="0.6"/><line x1="-0.55" y1="-3.0" x2="-0.55" y2="3.0" stroke="#555" stroke-width="0.45"/><line x1="0.55" y1="-3.0" x2="0.55" y2="3.0" stroke="#555" stroke-width="0.45"/></g>
<g transform="translate(750.5,414.5) rotate(90)"><ellipse rx="2.21" ry="2.6" fill="#fff" stroke="#555" stroke-width="0.6"/><line x1="-0.55" y1="-3.0" x2="-0.55" y2="3.0" stroke="#555" stroke-width="0.45"/><line x1="0.55" y1="-3.0" x2="0.55" y2="3.0" stroke="#555" stroke-width="0.45"/></g>
<g transform="translate(656,238.6)"><circle r="3.0" fill="#fff" stroke="#444" stroke-width="0.6"/><circle r="1.2" fill="#111"/></g>
<g transform="translate(695.5,238.6)"><circle r="3.0" fill="#fff" stroke="#444" stroke-width="0.6"/><circle r="1.2" fill="#111"/></g>
<g transform="translate(654,410.2)"><circle r="3.0" fill="#fff" stroke="#444" stroke-width="0.6"/><circle r="1.2" fill="#111"/></g>
<g transform="translate(702.7,334)"><circle r="3.2" fill="#ddd" stroke="#444" stroke-width="0.6"/><path d="M-1.8,1.8 L1.6,-1.6 L-1.6,-1.6 Z" fill="#111"/><path d="M-1.8,1.8 L1.6,-1.6 L1.6,1.2" fill="none" stroke="#333" stroke-width="0.5"/></g>
<text x="0" y="0" font-size="5" font-family="Liberation Sans" fill="#222" color="#222" transform="translate(697.6,341) rotate(-90)">SD/CO</text>
<text x="0" y="0" font-size="4.8" font-family="Liberation Sans" fill="#222" color="#222" transform="translate(652,241) rotate(-90)">SD</text>
<text x="0" y="0" font-size="4.8" font-family="Liberation Sans" fill="#222" color="#222" transform="translate(691.6,241) rotate(-90)">SD</text>
<text x="0" y="0" font-size="4.8" font-family="Liberation Sans" fill="#222" color="#222" transform="translate(650,412.5) rotate(-90)">SD</text>
<path d="M624,199.5 C638,212 646,235 643,256" stroke="#4a4a4a" stroke-width="0.6" fill="none" stroke-dasharray="4.5,2.5"/>
<path d="M714.5,200.5 C706,212 702,235 704,256" stroke="#4a4a4a" stroke-width="0.6" fill="none" stroke-dasharray="4.5,2.5"/>
<path d="M656.5,280 C668,280 682,278 690,275" stroke="#4a4a4a" stroke-width="0.6" fill="none" stroke-dasharray="4.5,2.5"/>
<path d="M694.5,275.5 C705,288 706,305 696,316.5" stroke="#4a4a4a" stroke-width="0.6" fill="none" stroke-dasharray="4.5,2.5"/>
<path d="M701.7,318.7 C708,322 712,328 712,335" stroke="#4a4a4a" stroke-width="0.6" fill="none" stroke-dasharray="4.5,2.5"/>
<path d="M711,350 C709,365 712,380 719,385" stroke="#4a4a4a" stroke-width="0.6" fill="none" stroke-dasharray="4.5,2.5"/>
<path d="M600,294 C606,310 604,330 599,344" stroke="#4a4a4a" stroke-width="0.6" fill="none" stroke-dasharray="4.5,2.5"/>
<path d="M609.4,294 C608,315 604,335 600.5,345" stroke="#4a4a4a" stroke-width="0.6" fill="none" stroke-dasharray="4.5,2.5"/>
<path d="M589,327 C590,335 594,340 596,345" stroke="#4a4a4a" stroke-width="0.6" fill="none" stroke-dasharray="4.5,2.5"/>
<path d="M637,328 C640,335 645,340 647,343" stroke="#4a4a4a" stroke-width="0.6" fill="none" stroke-dasharray="4.5,2.5"/>
<path d="M627,425.5 C632,432 640,434 648,430 C654,428 660,428 665,429" stroke="#4a4a4a" stroke-width="0.6" fill="none" stroke-dasharray="4.5,2.5"/>
<path d="M724,283 C730,280 736,281 741,284" stroke="#4a4a4a" stroke-width="0.6" fill="none" stroke-dasharray="4.5,2.5"/>
<path d="M724,287 C733,290 738,294 741,299" stroke="#4a4a4a" stroke-width="0.6" fill="none" stroke-dasharray="4.5,2.5"/>
<path d="M727,425 A11,11 0 0 0 729,446" stroke="#777" stroke-width="0.5" fill="none" />
<path d="M729,425 C732,422 737,423 738,427" stroke="#777" stroke-width="0.5" fill="none" />
<path d="M729,446 C732,449 737,448 738,444" stroke="#777" stroke-width="0.5" fill="none" />
<path d="M671.5,460.2 H686 V473.7 H740 V460.2 H757.6 V433.8" stroke="#bbb" stroke-width="0.5" fill="none" stroke-dasharray="2.5,1.5"/>
</svg></body></html>
